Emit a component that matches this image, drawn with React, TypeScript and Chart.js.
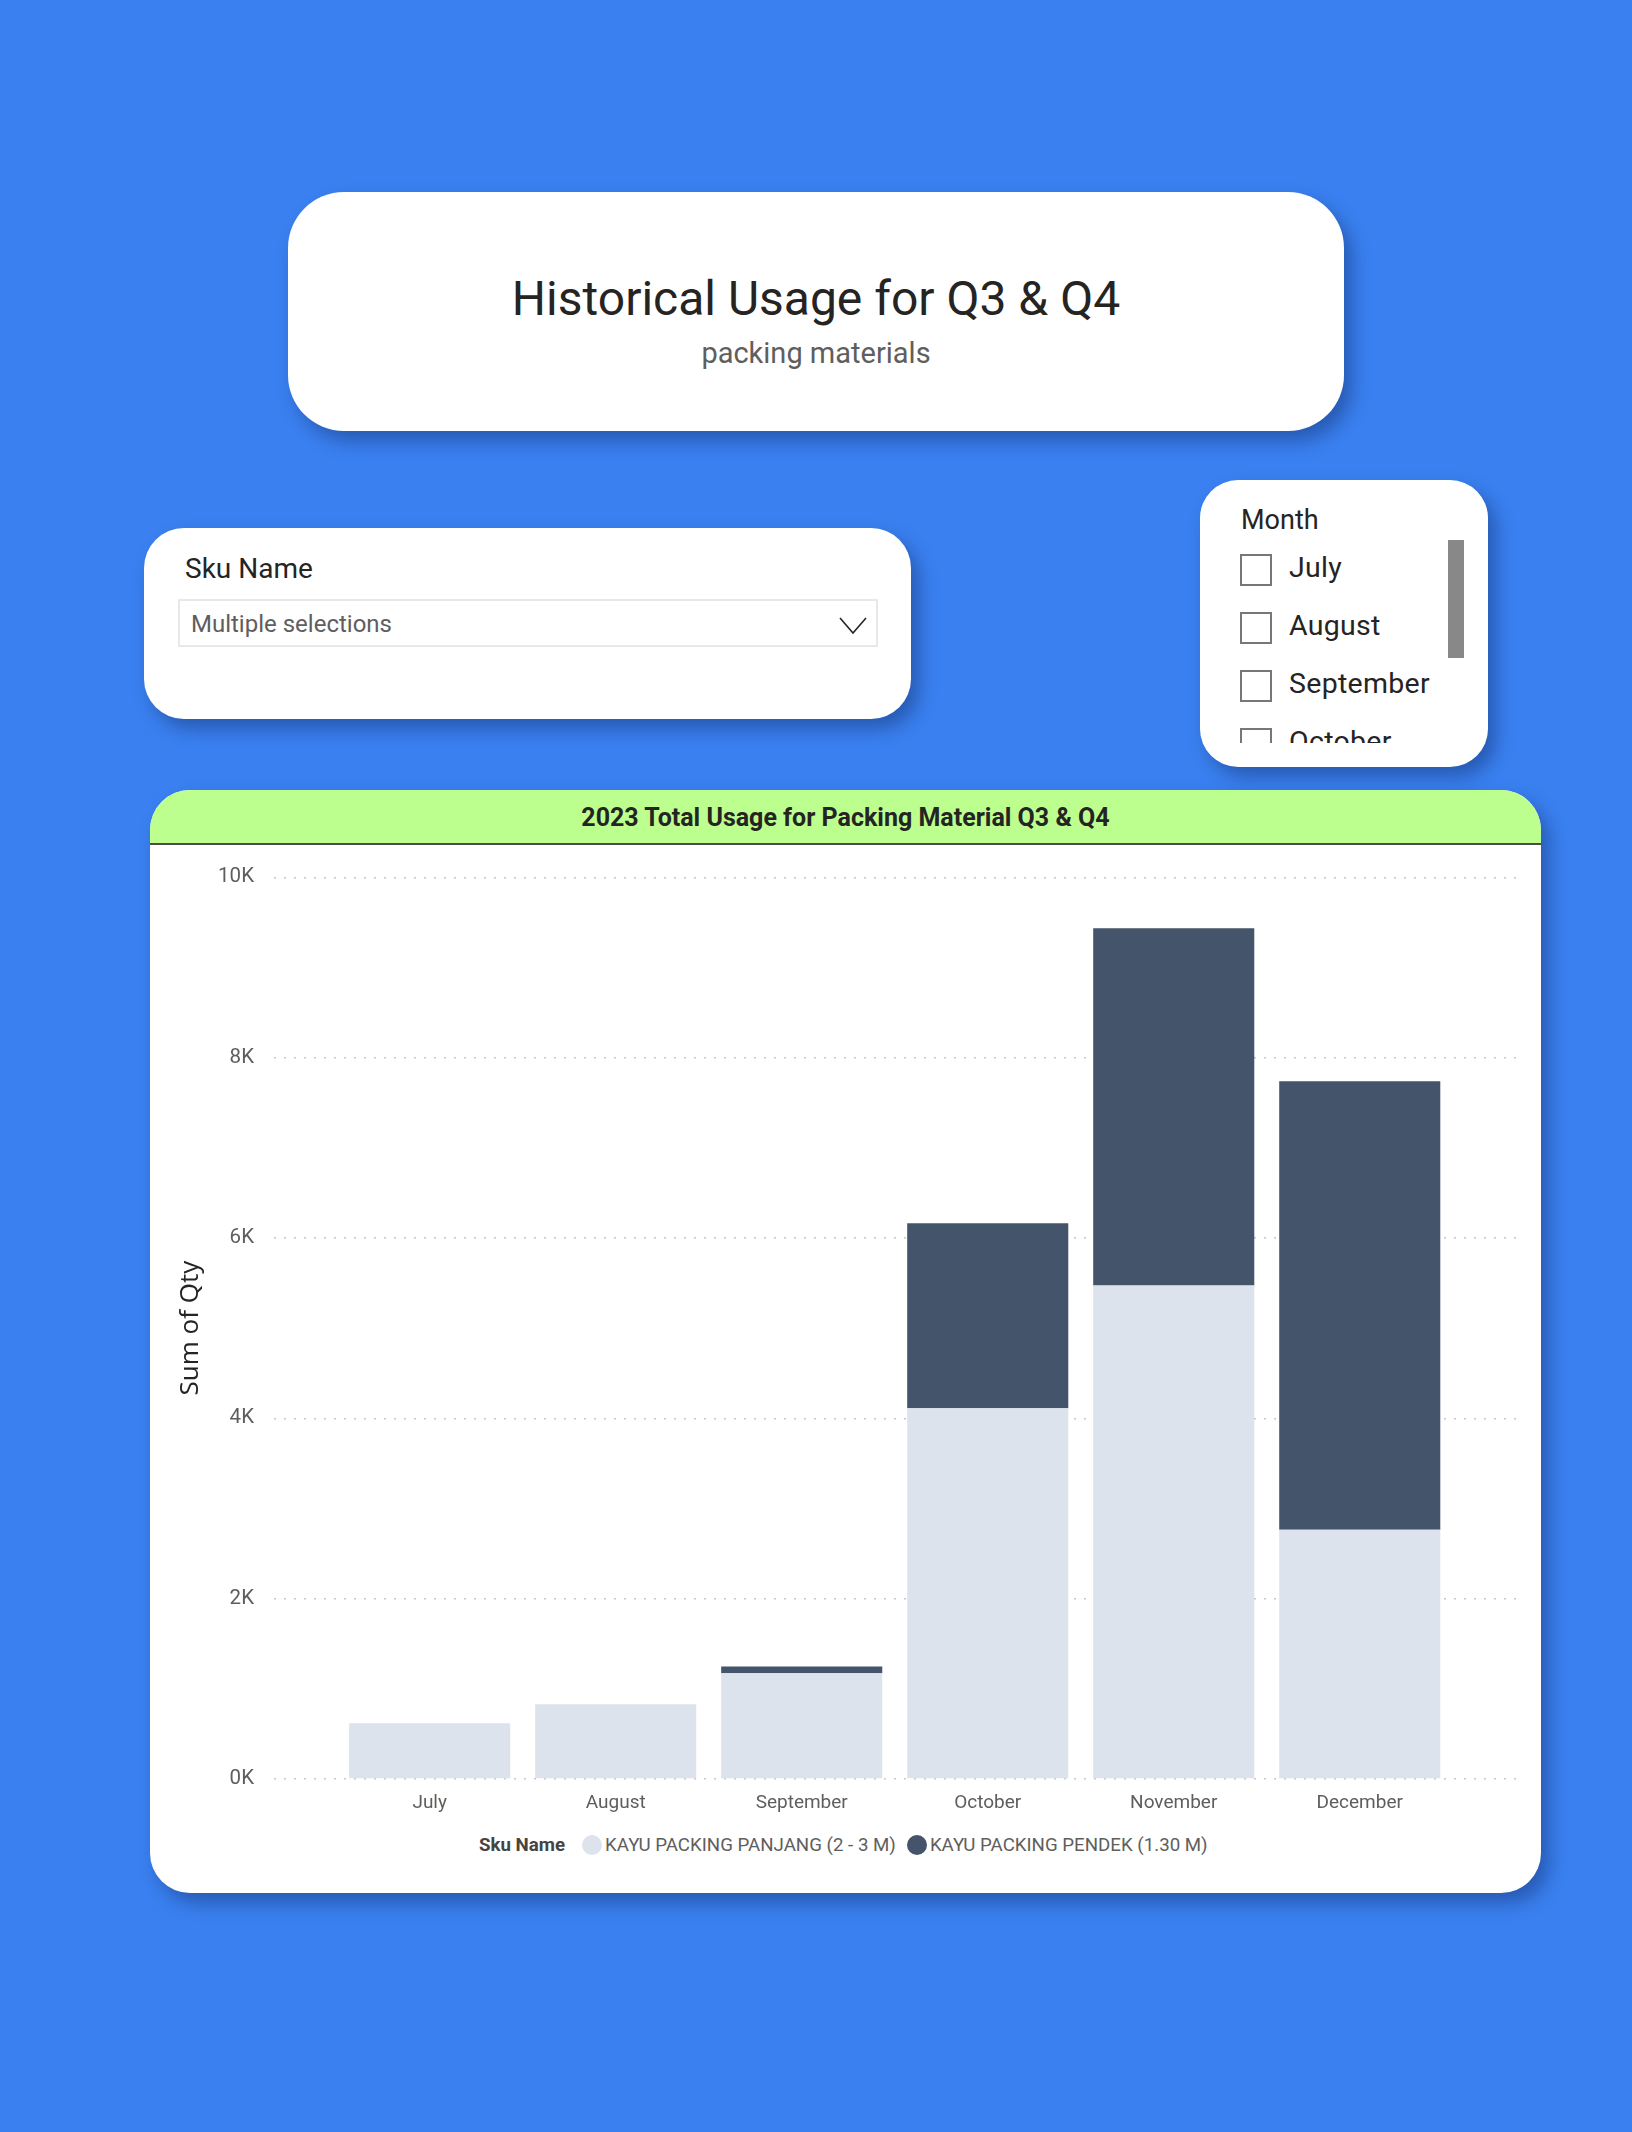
import React, { useEffect, useRef } from "react";
import { Chart, registerables } from "chart.js";

Chart.register(...registerables);

const months = ["July", "August", "September", "October", "November", "December"];
const panjangQty = [619, 829, 1172, 4112, 5472, 2764];
const pendekQty = [0, 0, 77, 2052, 3964, 4974];
const seriesNames = ["KAYU PACKING PANJANG (2 - 3 M)", "KAYU PACKING PENDEK (1.30 M)"];
const seriesColors = ["#DCE3ED", "#44546A"];
const yTicks = [0, 2000, 4000, 6000, 8000, 10000];
const sliderMonths = ["July", "August", "September", "October"];

const DIN = "Roboto, 'Noto Sans', sans-serif";

function BarChart() {
  const ref = useRef<HTMLCanvasElement | null>(null);
  useEffect(() => {
    if (!ref.current) return;
    const chart = new Chart(ref.current, {
      type: "bar",
      data: {
        datasets: [
          {
            label: seriesNames[0],
            data: panjangQty.map((v, i) => ({ x: i, y: v })),
            backgroundColor: seriesColors[0],
            borderWidth: 0,
            categoryPercentage: 1,
            barPercentage: 0.866,
          },
          {
            label: seriesNames[1],
            data: pendekQty.map((v, i) => ({ x: i, y: v })),
            backgroundColor: seriesColors[1],
            borderWidth: 0,
            categoryPercentage: 1,
            barPercentage: 0.866,
          },
        ],
      },
      options: {
        animation: false,
        responsive: false,
        devicePixelRatio: 1,
        layout: { padding: { top: 20, right: 25, bottom: 0, left: 0 } },
        plugins: { legend: { display: false }, tooltip: { enabled: false } },
        scales: {
          x: {
            type: "linear",
            stacked: true,
            min: -0.837,
            max: 5.84,
            offset: false,
            grid: { display: false },
            border: { display: false },
            afterFit: (s: any) => {
              s.height = 51;
            },
            ticks: {
              stepSize: 1,
              includeBounds: false,
              autoSkip: false,
              maxRotation: 0,
              padding: 5,
              color: "#605E5C",
              font: { family: DIN, size: 19 },
              callback: (v: any) => (Number.isInteger(v) && months[v] !== undefined ? months[v] : ""),
            },
          },
          y: {
            stacked: true,
            min: yTicks[0],
            max: yTicks[yTicks.length - 1],
            afterFit: (s: any) => {
              s.width = 124;
            },
            afterBuildTicks: (s: any) => {
              s.ticks = yTicks.map((v) => ({ value: v }));
            },
            grid: { color: "#C8C8C8", lineWidth: 1.5, drawTicks: false },
            border: { display: false, dash: [2, 8] },
            ticks: {
              padding: 20,
              color: "#605E5C",
              font: { family: DIN, size: 20.5 },
              callback: (v: any) => `${Number(v) / 1000}K`,
            },
            title: {
              display: true,
              text: "Sum of Qty",
              color: "#252423",
              font: { family: "'Segoe UI', 'Open Sans', sans-serif", size: 26 },
              padding: { top: 25, bottom: 0 },
            },
          },
        },
      },
    });
    return () => chart.destroy();
  }, []);
  return (
    <canvas
      ref={ref}
      width={1391}
      height={985}
      style={{ position: "absolute", left: 0, top: 55, width: 1391, height: 985 }}
    />
  );
}

const shadow = "8px 10px 18px rgba(10, 30, 80, 0.38)";

export default function App() {
  return (
    <div
      style={{
        position: "absolute",
        left: 0,
        top: 0,
        width: 1632,
        height: 2132,
        background: "#3A80F0",
        overflow: "hidden",
        fontFamily: DIN,
      }}
    >
      {/* Title card */}
      <div
        style={{
          position: "absolute",
          left: 288,
          top: 192,
          width: 1056,
          height: 239,
          background: "#fff",
          borderRadius: 56,
          boxShadow: shadow,
        }}
      >
        <div
          style={{
            position: "absolute",
            left: 0,
            right: 0,
            top: 83,
            textAlign: "center",
            fontSize: 48,
            lineHeight: "48px",
            color: "#252423",
            whiteSpace: "nowrap",
          }}
        >
          Historical Usage for Q3 &amp; Q4
        </div>
        <div
          style={{
            position: "absolute",
            left: 0,
            right: 0,
            top: 147,
            textAlign: "center",
            fontSize: 29,
            lineHeight: "29px",
            color: "#605E5C",
            whiteSpace: "nowrap",
          }}
        >
          packing materials
        </div>
      </div>

      {/* Sku Name slicer */}
      <div
        style={{
          position: "absolute",
          left: 144,
          top: 528,
          width: 767,
          height: 191,
          background: "#fff",
          borderRadius: 40,
          boxShadow: shadow,
        }}
      >
        <div
          style={{
            position: "absolute",
            left: 41,
            top: 27,
            fontSize: 28,
            lineHeight: "28px",
            color: "#252423",
            whiteSpace: "nowrap",
          }}
        >
          Sku Name
        </div>
        <div
          style={{
            position: "absolute",
            left: 34,
            top: 71,
            width: 700,
            height: 48,
            boxSizing: "border-box",
            border: "2px solid #E8E8E8",
          }}
        />
        <div
          style={{
            position: "absolute",
            left: 47,
            top: 84,
            fontSize: 24,
            lineHeight: "24px",
            color: "#605E5C",
            whiteSpace: "nowrap",
          }}
        >
          Multiple selections
        </div>
        <svg
          style={{ position: "absolute", left: 694, top: 87 }}
          width={30}
          height={22}
          viewBox="0 0 30 22"
        >
          <polyline points="2,3 15,18 28,3" fill="none" stroke="#252423" strokeWidth={1.6} />
        </svg>
      </div>

      {/* Month slicer */}
      <div
        style={{
          position: "absolute",
          left: 1200,
          top: 480,
          width: 288,
          height: 287,
          background: "#fff",
          borderRadius: 38,
          boxShadow: shadow,
        }}
      >
        <div
          style={{
            position: "absolute",
            left: 41,
            top: 27,
            fontSize: 27,
            lineHeight: "27px",
            color: "#252423",
            whiteSpace: "nowrap",
          }}
        >
          Month
        </div>
        <div
          style={{
            position: "absolute",
            left: 0,
            top: 0,
            width: 288,
            height: 263,
            overflow: "hidden",
          }}
        >
          {sliderMonths.map((m, i) => (
            <React.Fragment key={m}>
              <div
                style={{
                  position: "absolute",
                  left: 40,
                  top: 74 + i * 58,
                  width: 32,
                  height: 32,
                  boxSizing: "border-box",
                  border: "2px solid #777",
                  background: "#fff",
                }}
              />
              <div
                style={{
                  position: "absolute",
                  left: 89,
                  top: 98 + i * 58 - 24,
                  fontSize: 28.5,
                  lineHeight: "28px",
                  letterSpacing: 0.3,
                  color: "#252423",
                  whiteSpace: "nowrap",
                }}
              >
                {m}
              </div>
            </React.Fragment>
          ))}
        </div>
        <div
          style={{
            position: "absolute",
            left: 248,
            top: 60,
            width: 16,
            height: 118,
            background: "#888",
          }}
        />
      </div>

      {/* Chart card */}
      <div
        style={{
          position: "absolute",
          left: 150,
          top: 790,
          width: 1391,
          height: 1103,
          background: "#fff",
          borderRadius: 40,
          overflow: "hidden",
          boxShadow: shadow,
        }}
      >
        <div
          style={{
            position: "absolute",
            left: 0,
            top: 0,
            width: 1391,
            height: 55,
            boxSizing: "border-box",
            background: "#BCFF8F",
            borderBottom: "2px solid #4B4B4B",
          }}
        />
        <div
          style={{
            position: "absolute",
            left: 0,
            right: 0,
            top: 15,
            textAlign: "center",
            fontSize: 25,
            lineHeight: "25px",
            fontWeight: 700,
            color: "#252423",
            whiteSpace: "nowrap",
          }}
        >
          2023 Total Usage for Packing Material Q3 &amp; Q4
        </div>
        <BarChart />
        <div
          style={{
            position: "absolute",
            left: 329,
            top: 1043,
            height: 24,
            display: "flex",
            alignItems: "center",
            fontSize: 18.7,
            color: "#605E5C",
            whiteSpace: "nowrap",
          }}
        >
          <span style={{ fontWeight: 700, color: "#444", marginRight: 17 }}>Sku Name</span>
          {seriesNames.map((n, i) => (
            <span key={n} style={{ display: "flex", alignItems: "center", marginRight: 11 }}>
              <span
                style={{
                  display: "inline-block",
                  width: 20,
                  height: 20,
                  borderRadius: 10,
                  background: seriesColors[i],
                  marginRight: 3,
                }}
              />
              {n}
            </span>
          ))}
        </div>
      </div>
    </div>
  );
}
